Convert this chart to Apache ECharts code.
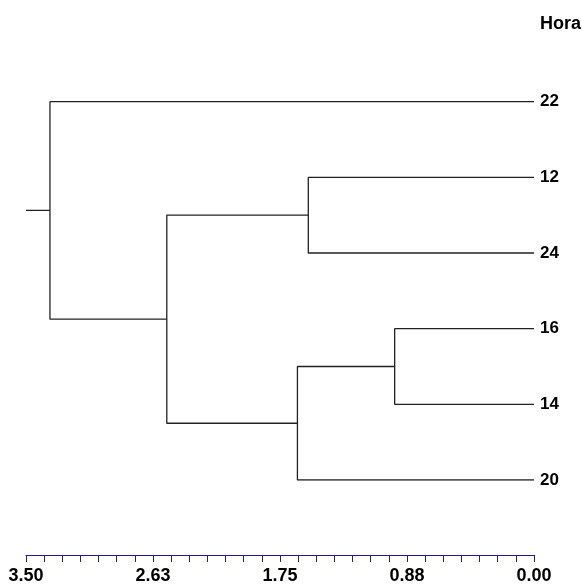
<!DOCTYPE html>
<html>
<head>
<meta charset="utf-8">
<script src="https://cdn.jsdelivr.net/npm/echarts@6/dist/echarts.min.js"></script>
<style>html,body{margin:0;padding:0;background:#fff}#c{width:582px;height:585px}</style>
</head>
<body>
<div id="c"></div>
<script>
// Leaves (top to bottom)
const leaves = ['22', '12', '24', '16', '14', '20'];
// Merges: [childA, childB, height]; ids < leaves.length are leaves, others are earlier merges
const merges = [
  [3, 4, 0.96],
  [1, 2, 1.555],
  [6, 5, 1.63],
  [7, 8, 2.53],
  [0, 9, 3.335]
];
const leafHeight = 0;    // leaves sit at distance 0
const rootStub = 3.5;    // root stem start
const axisMax = 3.5;
const axisInterval = 0.875;
const axisTitle = 'Hora';

const n = leaves.length;
const ys = leaves.map((_, i) => i);
const hs = leaves.map(() => leafHeight);
const series = [];
const lineStyle = { color: '#222', width: 1.3 };
function addLine(pts) {
  series.push({
    type: 'line', data: pts, showSymbol: false, symbol: 'none',
    silent: true, animation: false, lineStyle: lineStyle
  });
}
merges.forEach(([a, b, h]) => {
  addLine([[hs[a], ys[a]], [h, ys[a]], [h, ys[b]], [hs[b], ys[b]]]);
  ys.push((ys[a] + ys[b]) / 2);
  hs.push(h);
});
const root = ys.length - 1;
addLine([[rootStub, ys[root]], [hs[root], ys[root]]]);

const axisColor = '#1e1e8e';
const labelFont = { color: '#000', fontWeight: 'bold', fontFamily: 'Liberation Sans, Arial, sans-serif' };

const chart = echarts.init(document.getElementById('c'), null, { renderer: 'canvas' });
chart.setOption({
  animation: false,
  backgroundColor: '#fff',
  grid: { left: 26, right: 48, top: 101.7, bottom: 103.3 },
  graphic: [{
    type: 'text', left: 540, top: 15.5,
    style: { text: axisTitle, fill: '#000', font: 'bold 18px "Liberation Sans", Arial, sans-serif' }
  }],
  xAxis: {
    type: 'value', min: 0, max: axisMax, interval: axisInterval, inverse: true, offset: 75,
    position: 'bottom',
    axisLine: { show: true, onZero: false, lineStyle: { color: axisColor, width: 1 } },
    axisTick: { show: true, length: 7, lineStyle: { color: axisColor, width: 1 } },
    minorTick: { show: true, splitNumber: 7, length: 7, lineStyle: { color: axisColor, width: 1 } },
    splitLine: { show: false },
    axisLabel: Object.assign({ margin: 12, fontSize: 18, formatter: v => v.toFixed(2) }, labelFont)
  },
  yAxis: {
    type: 'value', min: 0, max: n - 1, interval: 1, inverse: true, position: 'right',
    axisLine: { show: false, onZero: false }, axisTick: { show: false }, splitLine: { show: false },
    axisLabel: Object.assign({ margin: 6, fontSize: 17, formatter: v => leaves[v] || '' }, labelFont)
  },
  series: series
});
</script>
</body>
</html>
